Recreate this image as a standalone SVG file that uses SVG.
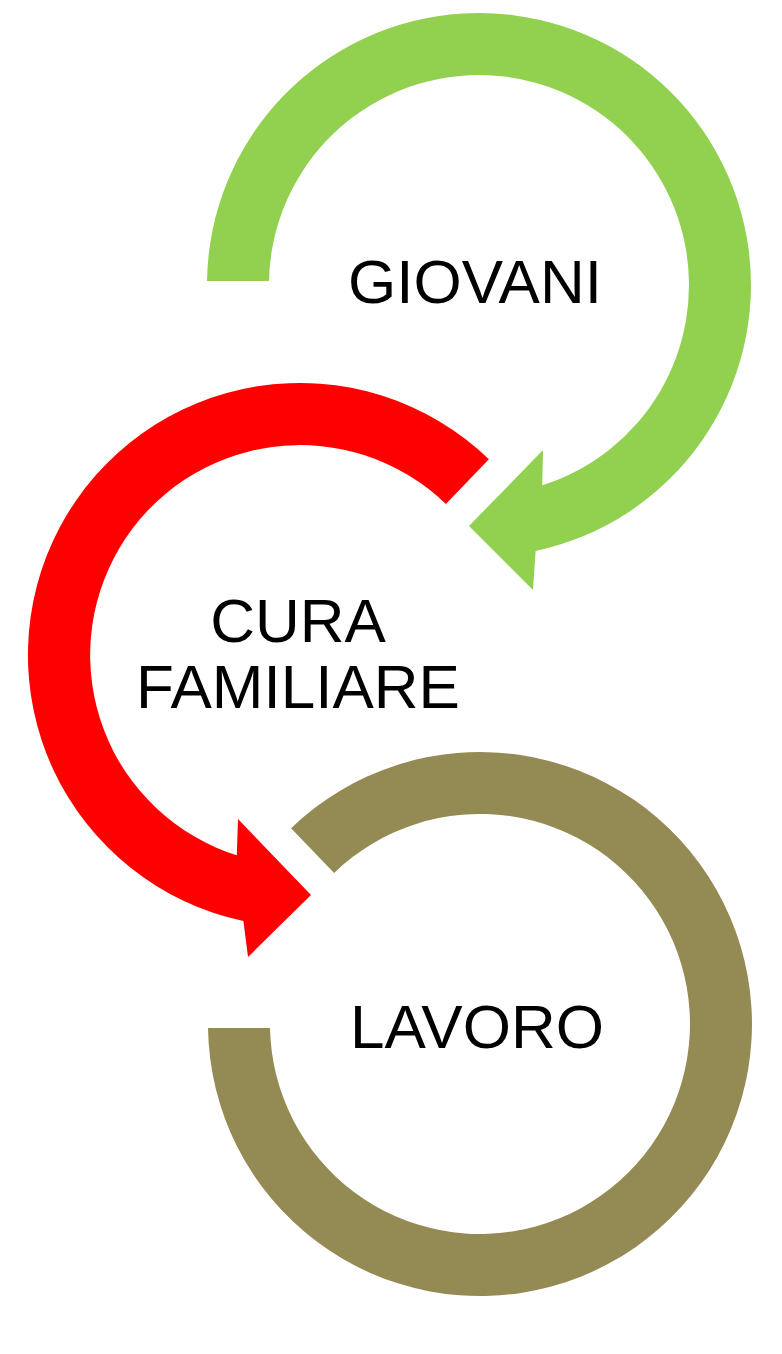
<svg xmlns="http://www.w3.org/2000/svg" width="782" height="1354" viewBox="0 0 782 1354">
<style>
.lbl{font-family:"Liberation Sans",Arial,sans-serif;font-size:62px;fill:#000;text-anchor:middle}
</style>
<rect width="782" height="1354" fill="#fff"/>
<g id="connectors">
<path id="arrow-giovani" fill="#92D050" d="M207,281 A272,272 0 1 1 535.6,551 L533,590 L469,526 L543,450 L542.2,485.3 A210,210 0 1 0 269,281 Z"/>
<path id="arrow-cura" fill="#FF0000" d="M488.9,459.3 A272,272 0 1 0 243.4,921 L248,957 L311,895 L238,819 L236.8,855.3 A210,210 0 1 1 445.9,503.9 Z"/>
<path id="arrow-lavoro" fill="#948A54" d="M291.1,828.3 A272,272 0 1 1 208,1028 L270,1028 A210,210 0 1 0 334.1,872.9 Z"/>
</g>
<g id="node-giovani"><text class="lbl" x="475" y="303">GIOVANI</text></g>
<g id="node-cura"><text class="lbl" x="298" y="642">CURA</text><text class="lbl" x="298" y="708">FAMILIARE</text></g>
<g id="node-lavoro"><text class="lbl" x="477" y="1048">LAVORO</text></g>
</svg>
